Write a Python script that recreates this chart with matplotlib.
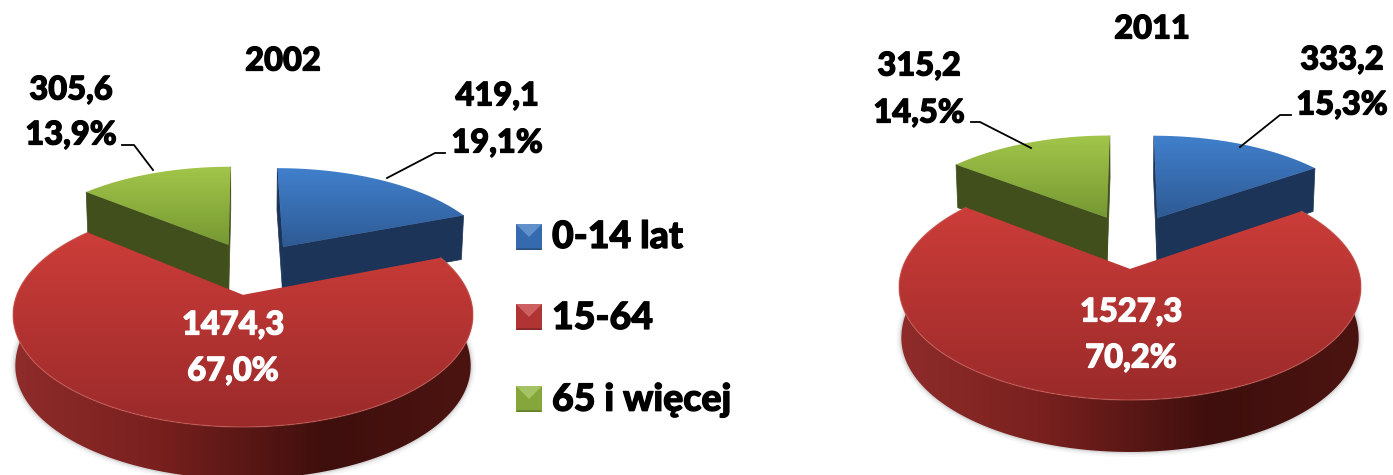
import numpy as np
from matplotlib import pyplot as plt
from matplotlib import patheffects as pe
from matplotlib.colors import to_rgb
from matplotlib.patches import Polygon

plt.rcParams['font.family'] = ['Lato', 'DejaVu Sans']

# dane
categories = ['0-14 lat', '15-64', '65 i więcej']
values_2002 = [419.1, 1474.3, 305.6]
values_2011 = [333.2, 1527.3, 315.2]
percent_2002 = ['19,1%', '67,0%', '13,9%']
percent_2011 = ['15,3%', '70,2%', '14,5%']

# kolory: gradient gory, sciana boczna
top_colors = [('#4180cc', '#2e5a94'), ('#cc3d39', '#9a2a2a'), ('#a2c64a', '#769833')]
wall_colors = ['#1b3458', None, '#404f1b']
rim_stops = [(0.0, '#8e2c2a'), (0.3, '#7a211f'), (0.68, '#3e0f0d'), (1.0, '#4c1411')]
legend_colors = ['#3a74bd', '#c0393a', '#8fb43f']

explode = 0.265
fs = 23.5
weight = 900

fig = plt.figure(figsize=(13.93, 4.75), dpi=100)
ax = fig.add_axes([0, 0, 1, 1])


def label(x, y, s, color='black', size=fs, ha='center'):
    # Lato jest ciensza od oryginalu, wiec lekki obrys
    t = ax.text(x, y, s, ha=ha, va='center', fontweight=weight, fontsize=size, color=color, zorder=40)
    t.set_path_effects([pe.withStroke(linewidth=0.9, foreground=color)])


def gradient(poly, stops, vertical=True, z=1):
    # wypelnienie gradientem przyciete do wielokata
    x0, x1 = poly[:, 0].min(), poly[:, 0].max()
    y0, y1 = poly[:, 1].min(), poly[:, 1].max()
    t = np.linspace(0, 1, 256)
    pos = [s[0] for s in stops]
    rgb = np.array([to_rgb(s[1]) for s in stops])
    img = np.stack([np.interp(t, pos, rgb[:, i]) for i in range(3)], axis=-1)
    img = img[:, None, :] if vertical else img[None, :, :]
    im = ax.imshow(img, extent=(x0, x1, y1, y0), origin='upper', aspect='auto',
                   zorder=z, interpolation='bilinear')
    patch = Polygon(poly, closed=True, transform=ax.transData, fc='none', ec='none')
    ax.add_patch(patch)
    im.set_clip_path(patch)


def draw_pie(values, cx, cy, rx, ry, p, base_z):
    def proj(u, v):
        # rzut perspektywiczny plaszczyzny kola
        d = 1 + p * v
        return np.column_stack([cx + rx * u * np.sqrt(1 - p ** 2) / d,
                                cy - ry * (v + p) / d])

    def lower(pts):
        # dolna krawedz: przesuniecie zalezy od odleglosci od widza
        out = pts.copy()
        out[:, 0] = cx + (pts[:, 0] - cx) * 0.99
        out[:, 1] = pts[:, 1] + np.interp(pts[:, 1] - cy, [-145, -60, 0, 115], [42, 46, 51, 52])
        return out

    shares = np.array(values) / sum(values)
    edges = np.concatenate([[0], np.cumsum(shares)]) * 2 * np.pi
    mids = (edges[:-1] + edges[1:]) / 2
    big = int(np.argmax(values))

    # kolejnosc rysowania: tylne wycinki, potem duzy z przodu
    order = [i for i in range(len(values)) if i != big] + [big]
    z = base_z
    for i in order:
        du = explode * (np.sin(mids[i]) - np.sin(mids[big]))
        dv = explode * (np.cos(mids[i]) - np.cos(mids[big]))
        th = np.linspace(edges[i], edges[i + 1], 200)
        arc = proj(np.sin(th) + du, np.cos(th) + dv)
        apex = proj(np.array([du]), np.array([dv]))
        top = np.vstack([apex, arc])

        if i == big:
            # cien pod spodem
            low = lower(arc)
            for lw, a in [(7, 0.05), (4, 0.08), (2, 0.12)]:
                ax.plot(low[:, 0], low[:, 1], color='#555555', lw=lw, alpha=a, zorder=z)
            z += 1
            rim = np.vstack([arc, lower(arc)[::-1]])
            gradient(rim, rim_stops, vertical=False, z=z)
        else:
            # sciany promieniowe
            for end in (arc[0:1], arc[-1:]):
                wall = np.vstack([apex, end, lower(end), lower(apex)])
                ax.add_patch(Polygon(wall, closed=True, fc=wall_colors[i], ec=wall_colors[i],
                                     lw=0.5, zorder=z))
        z += 1
        gradient(top, [(0, top_colors[i][0]), (1, top_colors[i][1])], z=z)
        z += 1
        if i == big:
            ax.plot(arc[:, 0], arc[:, 1], color='#d0605a', lw=1, alpha=0.5, zorder=z)
            z += 1


def bevel_square(x, y, s, color, z):
    # znacznik legendy ze scietymi krawedziami
    c = np.array(to_rgb(color))
    light = c + (1 - c) * 0.2
    dark = c * 0.7
    b = s * 0.07
    ax.add_patch(Polygon([(x, y), (x + s, y), (x + s, y + s), (x, y + s)], fc=c * 0.92, ec='none', zorder=z))
    ax.add_patch(Polygon([(x, y), (x + s, y), (x + s / 2, y + s / 2)], fc=light, ec='none', zorder=z + 1))
    ax.add_patch(Polygon([(x, y + s), (x + s, y + s), (x + s - b, y + s - b), (x + b, y + s - b)],
                         fc=dark, ec='none', zorder=z + 1))


draw_pie(values_2002, 243, 315, 230, 112, 0.18, 1)
draw_pie(values_2011, 1130, 287, 231, 113, 0.16, 1)


def num(v):
    return f'{v:.1f}'.replace('.', ',')


# tytuly
label(283, 61, '2002')
label(1152, 29, '2011')

# etykiety 2002
label(497, 96, num(values_2002[0]))
label(497, 143, percent_2002[0])
label(233, 325, num(values_2002[1]), color='white')
label(233, 371, percent_2002[1], color='white')
label(71, 90, num(values_2002[2]))
label(71, 135, percent_2002[2])
# etykiety 2011
label(1342, 60, num(values_2011[0]))
label(1342, 105, percent_2011[0])
label(1131, 312, num(values_2011[1]), color='white')
label(1131, 358, percent_2011[1], color='white')
label(919, 66, num(values_2011[2]))
label(919, 113, percent_2011[2])

# linie odniesienia
ax.plot([387, 435, 445], [178, 153, 153], color='black', lw=1.3, zorder=31)
ax.plot([153, 134, 122], [170, 145, 145], color='black', lw=1.3, zorder=31)
ax.plot([1240, 1280, 1291], [147, 115, 115], color='black', lw=1.3, zorder=31)
ax.plot([1031, 980, 971], [148, 122, 122], color='black', lw=1.3, zorder=31)

# legenda
for name, col, ym, ytxt in zip(categories, legend_colors, [224, 304, 386], [237, 318, 400]):
    bevel_square(516, ym, 26, col, 40)
    label(552, ytxt, name, size=27, ha='left')

ax.set_xlim(0, 1393)
ax.set_ylim(475, 0)
ax.axis('off')
fig.savefig('out.png', dpi=100)
